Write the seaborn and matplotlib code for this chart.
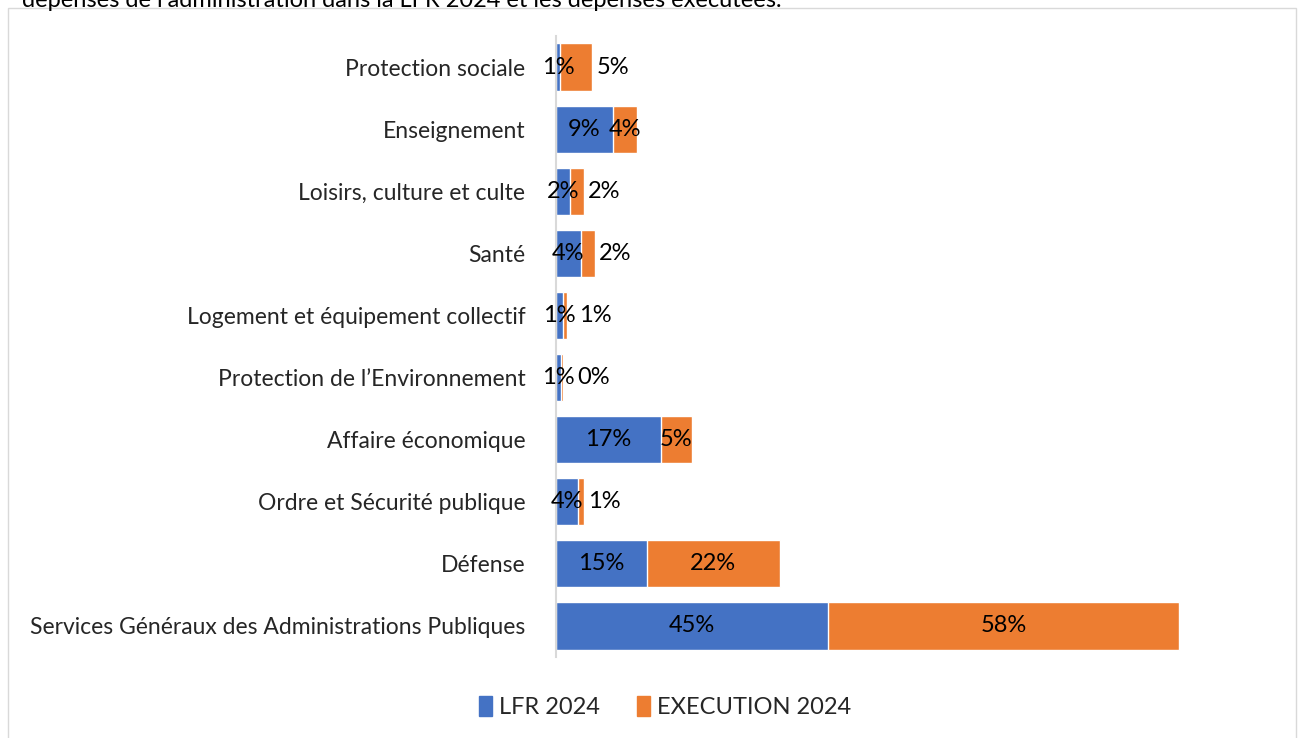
import matplotlib
matplotlib.use("Agg")
import matplotlib.pyplot as plt
import matplotlib.patches as mpatches
import seaborn as sns
import pandas as pd

categories = [
    "Protection sociale",
    "Enseignement",
    "Loisirs, culture et culte",
    "Santé",
    "Logement et équipement collectif",
    "Protection de l\u2019Environnement",
    "Affaire économique",
    "Ordre et Sécurité publique",
    "Défense",
    "Services Généraux des Administrations Publiques",
]
lfr_2024 = [0.7, 9.4, 2.3, 4.1, 1.1, 0.8, 17.3, 3.6, 15.0, 45.0]
execution_2024 = [5.3, 4.0, 2.3, 2.3, 0.7, 0.3, 5.1, 1.0, 22.0, 58.0]

df = pd.DataFrame({"cat": categories, "lfr": lfr_2024, "exe": execution_2024})
df["total"] = df["lfr"] + df["exe"]

blue = "#4472C4"
orange = "#ED7D31"

sns.set_theme(style="white")
plt.rcParams["font.family"] = ["Lato", "DejaVu Sans"]

W, H = 1306, 738
fig = plt.figure(figsize=(W / 100, H / 100), dpi=100)

# frame around the chart area
fig.patches.append(mpatches.Rectangle((8 / W, -0.01), (1296 - 8) / W, (H - 8) / H + 0.01,
                                      transform=fig.transFigure, fill=False,
                                      edgecolor="#d9d9d9", linewidth=1))
# caption of the document, cut off at the top
fig.text(22 / W, 1.0, "dépenses de l\u2019administration dans la LFR 2024 et les dépenses exécutées.",
         ha="left", va="center", fontsize=17, color="black")

ax = fig.add_axes([556 / W, 1 - 657 / H, (1280 - 556) / W, (657 - 36) / H])

sns.barplot(data=df, x="total", y="cat", color=orange, orient="h", width=0.76,
            ax=ax, saturation=1, legend=False)
sns.barplot(data=df, x="lfr", y="cat", color=blue, orient="h", width=0.76,
            ax=ax, saturation=1, legend=False)

# segment labels; when the blue label overflows, the orange label moves outside
for i, row in df.iterrows():
    ax.text(row["lfr"] / 2, i, f"{row['lfr']:.0f}%", ha="center", va="center",
            fontsize=17, color="black")
    if row["lfr"] < 5:
        x_out = max(row["total"], row["lfr"] / 2 + 2.5)
        ax.annotate(f"{row['exe']:.0f}%", (x_out, i), xytext=(3, 0),
                    textcoords="offset points", ha="left", va="center",
                    fontsize=17, color="black")
    else:
        ax.text(row["lfr"] + row["exe"] / 2, i, f"{row['exe']:.0f}%", ha="center",
                va="center", fontsize=17, color="black")

ax.set_xlim(0, (1280 - 556) / 6.05)
ax.set_ylim(9.5, -0.5)
ax.set_xlabel("")
ax.set_ylabel("")
ax.set_xticks([])
ax.tick_params(axis="y", length=0, pad=22, labelsize=16.5)
for side in ["top", "right", "bottom"]:
    ax.spines[side].set_visible(False)
ax.spines["left"].set_color("#d9d9d9")
ax.spines["left"].set_linewidth(1.5)

handles = [mpatches.Patch(color=blue, label="LFR 2024"),
           mpatches.Patch(color=orange, label="EXECUTION 2024")]
fig.legend(handles=handles, loc="center", bbox_to_anchor=(665 / W, 1 - 707 / H),
           ncol=2, frameon=False, fontsize=17, handlelength=0.55, handleheight=0.9,
           handletextpad=0.3, columnspacing=1.6)

fig.savefig("out.png", dpi=100)
